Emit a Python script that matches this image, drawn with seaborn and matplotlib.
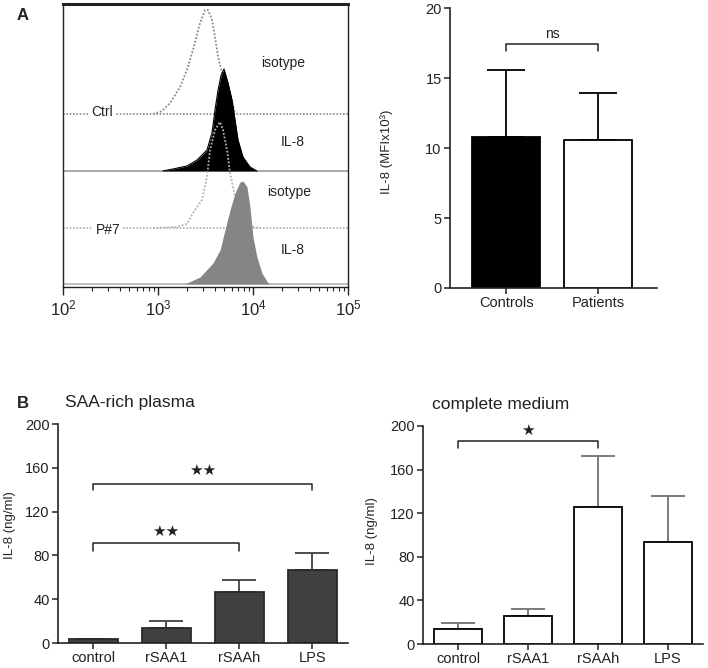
import matplotlib
matplotlib.use("Agg")
import matplotlib.pyplot as plt
import numpy as np
import pandas as pd
import seaborn as sns
from matplotlib.ticker import LogLocator, NullFormatter

# ---- panel A, left: flow histograms (intensity, height in event units) ----
iso_ctrl_x = [885, 1050, 1130, 1340, 1710, 2070, 2450, 2770, 3130, 3360, 3700, 3980, 4290, 4720, 5730, 6470]
iso_ctrl_y = [0, 2, 4, 11, 27, 47, 71, 91, 104, 104, 94, 77, 57, 41, 21, 1]

il8_ctrl_x = [1130, 1440, 2020, 2580, 3280, 3700, 3980, 4290, 4600, 4950, 5460, 6010, 6470, 6950, 7850, 9290, 11000]
il8_ctrl_y = [0, 2, 5, 11, 21, 38, 61, 81, 95, 102, 88, 71, 51, 31, 14, 4, 0]

iso_p7_x = [885, 1585, 2020, 2340, 2900, 3280, 3530, 3980, 4500, 4830, 5330, 5730, 6470, 7650, 10000, 11850]
iso_p7_y = [0, 1, 4, 15, 28, 51, 78, 98, 106, 98, 78, 55, 31, 8, 1, 0]

il8_p7_x = [1920, 2770, 3790, 4500, 5070, 5730, 6470, 7300, 7850, 8650, 9290, 10000, 11000, 12400, 14400, 15100]
il8_p7_y = [0, 7, 21, 34, 54, 74, 91, 102, 103, 97, 77, 47, 27, 11, 1, 0]

# ---- panel A, right ----
groups = ["Controls", "Patients"]
mfi_mean = [10.8, 10.55]
mfi_sem = [4.75, 3.35]

# ---- panel B ----
stimuli = ["control", "rSAA1", "rSAAh", "LPS"]
plasma_mean = [4.0, 14.0, 47.0, 66.5]
plasma_sem = [0.0, 6.0, 10.5, 16.0]
medium_mean = [13.5, 25.7, 126.0, 93.7]
medium_sem = [6.0, 6.2, 46.5, 42.0]

sns.set_style("ticks")
plt.rcParams["font.family"] = ["Liberation Sans", "DejaVu Sans"]
plt.rcParams["axes.edgecolor"] = "#222222"
plt.rcParams["xtick.color"] = "#222222"
plt.rcParams["ytick.color"] = "#222222"
plt.rcParams["text.color"] = "#222222"

fig = plt.figure(figsize=(7.08, 6.68), dpi=100)

# ---------------- A left: overlaid histograms ----------------
ax = fig.add_axes([0.089, 0.5704, 0.4025, 0.4237])
base = {"iso_ctrl": 173, "il8_ctrl": 116, "iso_p7": 59, "il8_p7": 3}
dot = (0, (1, 1))

ax.axhline(base["iso_ctrl"], color="#8a8a8a", lw=1.2, ls=dot, zorder=1)
ax.axhline(base["iso_p7"], color="#b0b0b0", lw=1.2, ls=dot, zorder=1)
ax.axhline(base["il8_ctrl"], color="#9a9a9a", lw=1.2, zorder=1)
ax.axhline(base["il8_p7"], color="#b0b0b0", lw=1.2, zorder=1)

d = pd.DataFrame({"x": iso_ctrl_x, "y": np.array(iso_ctrl_y) + base["iso_ctrl"]})
sns.lineplot(data=d, x="x", y="y", ax=ax, color="#8a8a8a", lw=1.3, ls=dot, zorder=2)

d = pd.DataFrame({"x": il8_ctrl_x, "y": np.array(il8_ctrl_y) + base["il8_ctrl"]})
ax.fill_between(d["x"], base["il8_ctrl"], d["y"], color="black", lw=0, zorder=3)
sns.lineplot(data=d, x="x", y="y", ax=ax, color="black", lw=0.8, zorder=3)

d = pd.DataFrame({"x": iso_p7_x, "y": np.array(iso_p7_y) + base["iso_p7"]})
sns.lineplot(data=d, x="x", y="y", ax=ax, color="#b0b0b0", lw=1.3, ls=dot, zorder=4)

d = pd.DataFrame({"x": il8_p7_x, "y": np.array(il8_p7_y) + base["il8_p7"]})
ax.fill_between(d["x"], base["il8_p7"], d["y"], color="#858585", lw=0, zorder=5)

ax.set_xscale("log")
ax.set_xlim(1e2, 1e5)
ax.set_ylim(0, 283)
ax.set_yticks([])
ax.set_xlabel("")
ax.set_ylabel("")
ax.xaxis.set_major_locator(LogLocator(base=10, numticks=10))
ax.xaxis.set_minor_locator(LogLocator(base=10, subs=np.arange(2, 10), numticks=20))
ax.xaxis.set_minor_formatter(NullFormatter())
ax.tick_params(axis="x", which="major", length=6, width=1, labelsize=12, pad=2)
ax.tick_params(axis="x", which="minor", length=3, width=0.8)
for s in ["left", "right", "bottom"]:
    ax.spines[s].set_linewidth(1.0)
ax.spines["top"].set_linewidth(2.2)

bb = dict(facecolor="white", edgecolor="none", pad=1.5)
ax.text(257, 175, "Ctrl", fontsize=10, ha="center", va="center", bbox=bb, zorder=6)
ax.text(297, 57, "P#7", fontsize=10, ha="center", va="center", bbox=bb, zorder=6)
ax.text(20700, 224, "isotype", fontsize=10, ha="center", va="center")
ax.text(26300, 145, "IL-8", fontsize=10, ha="center", va="center")
ax.text(23900, 95, "isotype", fontsize=10, ha="center", va="center")
ax.text(26300, 37, "IL-8", fontsize=10, ha="center", va="center")


def bar_panel(ax, cats, means, sems, colors, edge, width, capsize, ecolor, xlim, ylim, yticks):
    sns.barplot(x=cats, y=means, hue=cats, palette=colors, legend=False, ax=ax,
                width=width, edgecolor=edge, linewidth=1.3, errorbar=None, saturation=1)
    _, caps, _ = ax.errorbar(range(len(cats)), means, yerr=[np.zeros(len(cats)), sems], fmt="none",
                             ecolor=ecolor, elinewidth=1.3, capsize=capsize, capthick=1.3, zorder=0)
    for c in caps:
        c.set_color("#2a2a2a")
    ax.set_xlim(*xlim)
    ax.set_ylim(*ylim)
    ax.set_yticks(yticks)
    sns.despine(ax=ax)
    ax.spines["left"].set_linewidth(1.2)
    ax.spines["bottom"].set_linewidth(1.2)
    ax.tick_params(axis="both", length=4, width=1.1, labelsize=10.5, pad=2)


def bracket(ax, i, j, y, drop, label, fs, gap, fam=("DejaVu Sans",)):
    ax.plot([i, i, j, j], [y - drop, y, y, y - drop], color="#222222", lw=1.1)
    ax.text((i + j) / 2, y + gap, label, ha="center", va="center", fontsize=fs, family=list(fam))


# ---------------- A right ----------------
ax2 = fig.add_axes([0.6356, 0.5689, 0.2924, 0.419])
bar_panel(ax2, groups, mfi_mean, mfi_sem, ["black", "white"], "black", 0.74, 13.5, "black",
          (-0.61, 1.64), (0, 20), [0, 5, 10, 15, 20])
ax2.set_ylabel("IL-8 (MFIx10\u00b3)", fontsize=9.5)
ax2.yaxis.set_label_coords(-0.275, 0.486)
bracket(ax2, 0, 1, 17.43, 0.5, "ns", 10, 0.75, fam=("Liberation Sans",))

# ---------------- B left ----------------
ax3 = fig.add_axes([0.0819, 0.0374, 0.4096, 0.3278])
bar_panel(ax3, stimuli, plasma_mean, plasma_sem, ["#404040"] * 4, "#2a2a2a", 0.67, 12.5, "#404040",
          (-0.48, 3.49), (0, 200), [0, 40, 80, 120, 160, 200])
ax3.set_ylabel("IL-8 (ng/ml)", fontsize=9.5)
ax3.yaxis.set_label_coords(-0.145, 0.54)
bracket(ax3, 0, 3, 145, 5.5, "\u2605\u2605", 11, 13)
bracket(ax3, 0, 2, 91.5, 7.5, "\u2605\u2605", 11, 10)

# ---------------- B right ----------------
ax4 = fig.add_axes([0.5975, 0.0359, 0.3955, 0.3264])
bar_panel(ax4, stimuli, medium_mean, medium_sem, ["white"] * 4, "black", 0.68, 12, "#707070",
          (-0.5, 3.5), (0, 200), [0, 40, 80, 120, 160, 200])
ax4.set_ylabel("IL-8 (ng/ml)", fontsize=9.5)
ax4.yaxis.set_label_coords(-0.16, 0.52)
bracket(ax4, 0, 2, 186.5, 7, "\u2605", 11, 9.5)

fig.text(17 / 708, 1 - 15 / 668, "A", fontsize=12, fontweight="bold", va="center")
fig.text(17 / 708, 1 - 403 / 668, "B", fontsize=12, fontweight="bold", va="center")
fig.text(65 / 708, 1 - 403 / 668, "SAA-rich plasma", fontsize=12.5, va="center")
fig.text(432 / 708, 1 - 405 / 668, "complete medium", fontsize=12.5, va="center")

fig.savefig("out.png", dpi=100)
